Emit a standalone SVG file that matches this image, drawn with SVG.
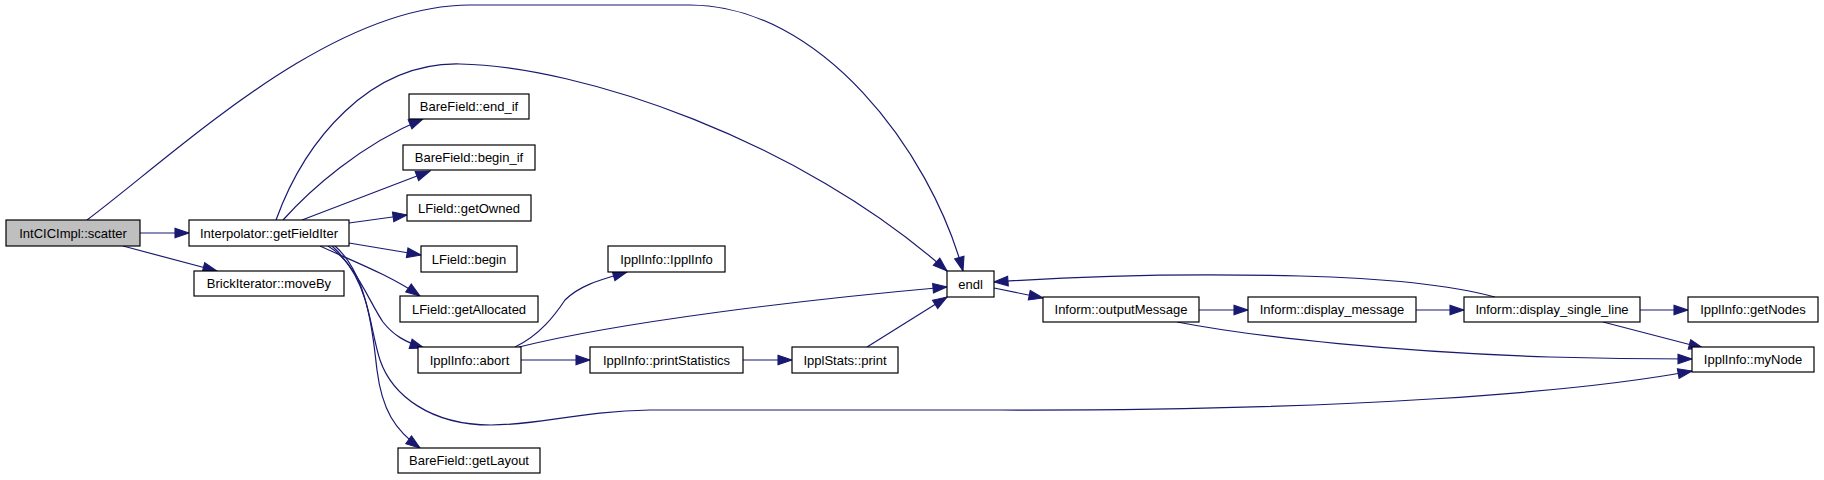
<svg xmlns="http://www.w3.org/2000/svg" width="1824" height="480" viewBox="0 0 1824 480">
<defs>
<style>
.node rect{fill:#ffffff;stroke:#000000;stroke-width:1.2}
.node.root rect{fill:#bfbfbf}
.node text{font-family:"Liberation Sans",Arial,Helvetica,sans-serif;font-size:13px;fill:#000;text-anchor:middle}
.edges path{fill:none;stroke:#191970;stroke-width:1.2;marker-end:url(#arr)}
</style>
<marker id="arr" markerUnits="userSpaceOnUse" markerWidth="14" markerHeight="10" viewBox="0 0 13 9" refX="13" refY="4.5" orient="auto" overflow="visible">
<path d="M0,0 L13,4.5 L0,9 z" fill="#191970" stroke="#191970"/>
</marker>
</defs>
<rect width="1824" height="480" fill="#ffffff"/>
<g class="edges" id="edges">
<path d="M140,233 L189,233"/>
<path d="M123,246 L217,271"/>
<path d="M87,220 C180,150 330,5 470,5 L690,5 C820,5 930,150 963,271"/>
<path d="M276,220 C305,140 370,62 460,64 C580,66 800,140 947,271"/>
<path d="M283,220 C310,190 360,145 423,119"/>
<path d="M302,220 L430,171"/>
<path d="M349,223 L407,215"/>
<path d="M349,243 L421,255"/>
<path d="M320,246 C350,260 390,275 420,296"/>
<path d="M328,246 C355,262 368,300 383,322 C393,335 405,342 424,348"/>
<path d="M332,246 C370,280 372,330 377,370 C382,410 395,430 420,448"/>
<path d="M335,246 C368,275 370,330 380,360 C392,395 430,425 491,425 C540,425 580,411 650,410 L1000,410 C1350,411 1580,392 1692,371"/>
<path d="M515,347 C540,335 555,315 565,300 C580,285 600,280 627,272"/>
<path d="M519,347 C620,322 800,300 947,287"/>
<path d="M521,360 L590,360"/>
<path d="M743,360 L792,360"/>
<path d="M867,347 L947,297"/>
<path d="M994,288 L1043,298"/>
<path d="M1199,310 L1248,310"/>
<path d="M1416,310 L1464,310"/>
<path d="M1640,310 L1688,310"/>
<path d="M1603,322 L1703,348"/>
<path d="M1177,322 C1260,338 1400,352 1550,357 C1620,359 1660,359 1692,359"/>
<path d="M1495,297 C1450,285 1380,278 1300,276 C1180,273 1080,276 994,282"/>
</g>
<g id="node_scatter" class="node root"><rect x="6" y="220" width="134" height="26"/><text x="73" y="237.5">IntCICImpl::scatter</text></g>
<g id="node_getFieldIter" class="node"><rect x="189" y="220" width="160" height="26"/><text x="269" y="237.5">Interpolator::getFieldIter</text></g>
<g id="node_moveBy" class="node"><rect x="194" y="271" width="150" height="25"/><text x="269" y="288">BrickIterator::moveBy</text></g>
<g id="node_end_if" class="node"><rect x="409" y="94" width="120" height="25"/><text x="469" y="111">BareField::end_if</text></g>
<g id="node_begin_if" class="node"><rect x="403" y="145" width="132" height="25"/><text x="469" y="162">BareField::begin_if</text></g>
<g id="node_getOwned" class="node"><rect x="407" y="195" width="124" height="26"/><text x="469" y="212.5">LField::getOwned</text></g>
<g id="node_begin" class="node"><rect x="421" y="246" width="96" height="26"/><text x="469" y="263.5">LField::begin</text></g>
<g id="node_getAllocated" class="node"><rect x="400" y="296" width="138" height="26"/><text x="469" y="313.5">LField::getAllocated</text></g>
<g id="node_abort" class="node"><rect x="418" y="347" width="103" height="26"/><text x="469.5" y="364.5">IpplInfo::abort</text></g>
<g id="node_getLayout" class="node"><rect x="398" y="448" width="142" height="25"/><text x="469" y="465">BareField::getLayout</text></g>
<g id="node_IpplInfo" class="node"><rect x="608" y="246" width="117" height="26"/><text x="666.5" y="263.5">IpplInfo::IpplInfo</text></g>
<g id="node_printStatistics" class="node"><rect x="590" y="347" width="153" height="26"/><text x="666.5" y="364.5">IpplInfo::printStatistics</text></g>
<g id="node_print" class="node"><rect x="792" y="347" width="106" height="26"/><text x="845" y="364.5">IpplStats::print</text></g>
<g id="node_endl" class="node"><rect x="947" y="271" width="47" height="26"/><text x="970.5" y="288.5">endl</text></g>
<g id="node_outputMessage" class="node"><rect x="1043" y="297" width="156" height="25"/><text x="1121" y="314">Inform::outputMessage</text></g>
<g id="node_display_message" class="node"><rect x="1248" y="297" width="168" height="25"/><text x="1332" y="314">Inform::display_message</text></g>
<g id="node_display_single_line" class="node"><rect x="1464" y="297" width="176" height="25"/><text x="1552" y="314">Inform::display_single_line</text></g>
<g id="node_getNodes" class="node"><rect x="1688" y="297" width="130" height="25"/><text x="1753" y="314">IpplInfo::getNodes</text></g>
<g id="node_myNode" class="node"><rect x="1692" y="347" width="122" height="25"/><text x="1753" y="364">IpplInfo::myNode</text></g>
</svg>
